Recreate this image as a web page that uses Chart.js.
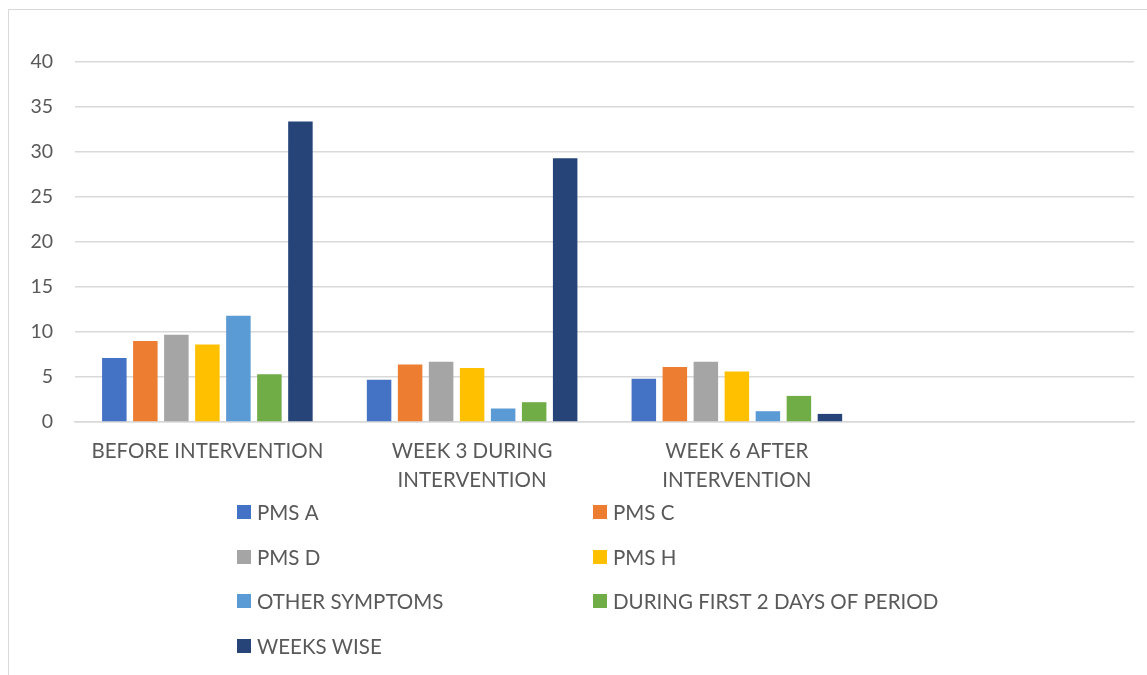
<!DOCTYPE html>
<html>
<head>
<meta charset="utf-8">
<script src="https://cdn.jsdelivr.net/npm/chart.js@4.4.1/dist/chart.umd.min.js"></script>
<style>
  html, body { margin: 0; padding: 0; background: #fff; }
  #wrap { position: relative; width: 1147px; height: 675px; overflow: hidden; }
  #frame {
    position: absolute; left: 8px; top: 9px; width: 1200px; height: 700px;
    border-left: 1px solid #d9d9d9; border-top: 1px solid #d9d9d9;
    pointer-events: none;
  }
</style>
</head>
<body>
<div id="wrap">
  <canvas id="chart" width="1147" height="675"></canvas>
  <div id="frame"></div>
</div>
<script>
// categories (4th slot is empty, as in the original sheet)
const categories = [
  ["BEFORE INTERVENTION"],
  ["WEEK 3 DURING", "INTERVENTION"],
  ["WEEK 6 AFTER", "INTERVENTION"],
  ""
];

const seriesNames = [
  "PMS A", "PMS C", "PMS D", "PMS H",
  "OTHER SYMPTOMS", "DURING FIRST 2 DAYS OF PERIOD", "WEEKS WISE"
];

const pmsA      = [7.1, 4.7, 4.8, null];
const pmsC      = [9.0, 6.4, 6.1, null];
const pmsD      = [9.7, 6.7, 6.7, null];
const pmsH      = [8.6, 6.0, 5.6, null];
const otherSym  = [11.8, 1.5, 1.2, null];
const firstDays = [5.3, 2.2, 2.9, null];
const weeksWise = [33.4, 29.3, 0.9, null];

const yTicks = [0, 5, 10, 15, 20, 25, 30, 35, 40];

const seriesValues = [pmsA, pmsC, pmsD, pmsH, otherSym, firstDays, weeksWise];
const seriesColors = ["#4472C4", "#ED7D31", "#A5A5A5", "#FFC000", "#5B9BD5", "#70AD47", "#264478"];

const FONT = "Lato, 'Open Sans', sans-serif";
const TEXT = "#595959";
const GRID = "#d9d9d9";

// legend in two columns under the axis, like the Excel original
const gridLegend = {
  id: "gridLegend",
  afterDraw(chart) {
    const ctx = chart.ctx;
    const items = Chart.defaults.plugins.legend.labels.generateLabels(chart);
    const colX = [237, 593];
    const rowY = [512, 557, 601, 646];
    ctx.save();
    ctx.font = "20.5px " + FONT;
    ctx.textBaseline = "middle";
    items.forEach((it, i) => {
      const x = colX[i % 2];
      const y = rowY[Math.floor(i / 2)];
      ctx.fillStyle = it.fillStyle;
      ctx.fillRect(x, y - 7, 14, 14);
      ctx.fillStyle = TEXT;
      ctx.fillText(it.text, x + 20, y + 1);
    });
    ctx.restore();
  }
};

new Chart(document.getElementById("chart"), {
  type: "bar",
  data: {
    labels: categories,
    datasets: seriesNames.map((name, i) => ({
      label: name,
      data: seriesValues[i],
      backgroundColor: seriesColors[i],
      borderWidth: 0,
      categoryPercentage: 0.82,
      barPercentage: 0.79
    }))
  },
  options: {
    responsive: false,
    animation: false,
    layout: { padding: { top: 62, right: 13, bottom: 173, left: 0 } },
    plugins: {
      legend: { display: false },
      tooltip: { enabled: false }
    },
    scales: {
      x: {
        grid: { display: false, drawTicks: false },
        border: { display: true, color: GRID, width: 1.5 },
        ticks: {
          color: TEXT,
          font: { family: FONT, size: 20.5, lineHeight: 1.42 },
          padding: 15,
          maxRotation: 0,
          autoSkip: false
        },
        afterFit(scale) { scale.height = 80; }
      },
      y: {
        min: 0,
        max: 40,
        afterBuildTicks(scale) { scale.ticks = yTicks.map(v => ({ value: v })); },
        grid: { color: GRID, lineWidth: 1.5, drawTicks: false },
        border: { display: false },
        ticks: {
          color: TEXT,
          font: { family: FONT, size: 19.5 },
          padding: 22
        },
        afterFit(scale) { scale.width = 75; }
      }
    }
  },
  plugins: [gridLegend]
});
</script>
</body>
</html>
